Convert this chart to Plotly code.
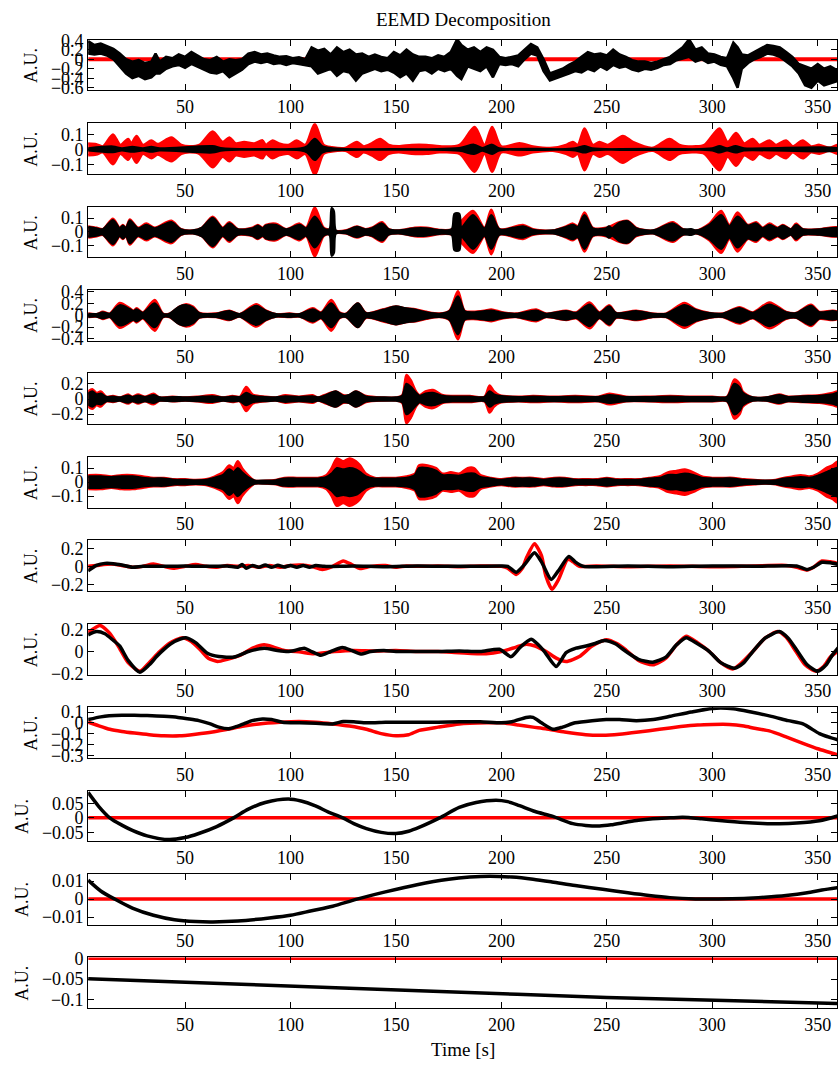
import plotly.graph_objects as go

# ---------------------------------------------------------------- data
# Time axis limits [s]
time_limits = [4.06, 359.14]
x_ticks = [50, 100, 150, 200, 250, 300, 350]

# Reference (red) flat components
flat_t = [4.06, 359.14]
flat_v = [0.0, 0.0]

# Row 1: raw signal, upper / lower extent of the dense trace
raw_t = [4, 7, 10, 13, 16, 19, 22, 25, 28, 31, 34, 36, 38, 41, 44, 47, 50, 53, 56, 59,
         62, 65, 68, 71, 74, 77, 80, 83, 86, 89, 92, 95, 98, 101, 104, 107, 110, 113,
         116, 119, 122, 125, 128, 131, 134, 137, 140, 143, 146, 149, 152, 155, 158,
         161, 164, 167, 170, 173, 176, 179, 181, 184, 187, 190, 193, 196, 199, 202,
         205, 208, 211, 214, 217, 220, 223, 226, 229, 232, 235, 238, 241, 244, 247,
         250, 253, 256, 259, 262, 265, 268, 271, 274, 277, 280, 283, 286, 289, 292,
         295, 298, 301, 304, 307, 310, 312, 314, 317, 320, 323, 326, 329, 332, 335,
         338, 341, 344, 347, 350, 353, 356, 360]
raw_hi = [0.38, 0.30, 0.33, 0.28, 0.22, 0.12, 0.0, -0.05, -0.02, -0.08, -0.05, 0.12, -0.05,
          0.05, 0.02, 0.10, 0.05, 0.15, 0.08, 0.0, -0.02, 0.05, -0.05, 0.0, -0.02, 0.0,
          0.12, 0.15, 0.10, 0.12, 0.08, 0.05, 0.06, 0.02, 0.04, 0.0, 0.25, 0.18, 0.22,
          0.10, 0.25, 0.15, 0.20, 0.10, 0.12, 0.05, 0.10, 0.05, 0.02, 0.15, 0.08, 0.20,
          0.10, 0.05, 0.05, 0.02, 0.08, 0.05, 0.15, 0.42, 0.30, 0.20, 0.25, 0.15, 0.25,
          0.20, 0.05, 0.02, 0.05, 0.08, 0.20, 0.32, 0.25, 0.0, -0.30, -0.25, -0.20,
          -0.12, -0.05, 0.05, 0.15, 0.10, 0.12, 0.08, 0.20, 0.10, 0.05, -0.02, -0.05,
          -0.05, -0.08, -0.05, 0.0, 0.05, 0.15, 0.25, 0.42, 0.20, 0.25, 0.12, 0.10, 0.05,
          0.02, 0.35, 0.25, 0.10, 0.08, 0.15, 0.22, 0.30, 0.28, 0.25, 0.15, 0.05, -0.10,
          -0.15, -0.20, -0.10, -0.20, -0.15, -0.25]
raw_lo = [0.12, 0.10, 0.12, 0.08, 0.0, -0.15, -0.30, -0.40, -0.35, -0.42, -0.38, -0.30,
          -0.30, -0.20, -0.15, -0.12, -0.18, -0.10, -0.15, -0.22, -0.28, -0.30, -0.25,
          -0.38, -0.30, -0.22, -0.10, -0.05, -0.08, -0.05, -0.10, -0.08, -0.12, -0.08,
          -0.10, -0.12, -0.15, -0.30, -0.25, -0.20, -0.35, -0.25, -0.28, -0.45, -0.30,
          -0.25, -0.20, -0.25, -0.22, -0.28, -0.38, -0.30, -0.45, -0.25, -0.22, -0.30,
          -0.20, -0.25, -0.20, -0.35, -0.42, -0.15, -0.20, -0.25, -0.15, -0.38, -0.10,
          -0.12, -0.10, -0.15, 0.0, 0.12, 0.08, -0.25, -0.45, -0.40, -0.35, -0.30, -0.25,
          -0.28, -0.20, -0.25, -0.15, -0.22, -0.12, -0.18, -0.15, -0.22, -0.25, -0.20,
          -0.22, -0.18, -0.12, -0.10, -0.02, 0.02, 0.05, -0.05, 0.0, -0.08, -0.05, -0.12,
          -0.15, -0.40, -0.60, -0.20, -0.08, 0.0, 0.05, 0.12, 0.10, 0.05, -0.05, -0.15,
          -0.30, -0.55, -0.60, -0.45, -0.55, -0.50, -0.45]

# Rows 2-6: oscillation amplitude of the fast modes (red = reference, black = estimate)
imf1_red_t = [4, 7.9, 11, 15.8, 19.3, 23, 24.5, 27, 30, 34, 37, 43.5, 48.2, 52, 56.8, 63.1,
              67.8, 71, 74, 78, 82.8, 86.7, 88.3, 91.5, 94.5, 99, 103, 107, 111.5, 115.7,
              119.6, 126, 131.5, 134.6, 138.5, 142.5, 146.5, 151.2, 157.5, 164.4, 170.7,
              180.2, 187.3, 192, 195.6, 199.9, 208.6, 214.9, 224.4, 230.7, 233.9, 236.2,
              239.4, 243.3, 246.5, 250.5, 257.6, 262.3, 271.8, 279.7, 284.4, 292.3, 296.3,
              303.4, 307.3, 311.3, 315.2, 319.2, 322.3, 327.1, 330.2, 335, 338.1, 342.9,
              346.8, 350.8, 355.5, 360]
imf1_red_a = [0.04, 0.035, 0.02, 0.10, 0.03, 0.07, 0.04, 0.09, 0.03, 0.06, 0.035, 0.08,
              0.03, 0.02, 0.03, 0.12, 0.05, 0.08, 0.04, 0.05, 0.04, 0.06, 0.03, 0.06, 0.04,
              0.03, 0.06, 0.03, 0.17, 0.03, 0.015, 0.01, 0.05, 0.02, 0.04, 0.07, 0.03, 0.02,
              0.03, 0.03, 0.02, 0.03, 0.15, 0.03, 0.15, 0.02, 0.04, 0.02, 0.01, 0.03, 0.05,
              0.03, 0.14, 0.03, 0.05, 0.03, 0.09, 0.05, 0.01, 0.07, 0.03, 0.02, 0.03, 0.14,
              0.05, 0.11, 0.04, 0.07, 0.03, 0.06, 0.03, 0.06, 0.02, 0.06, 0.02, 0.03, 0.01,
              0.03]
imf1_blk_t = [4, 15.8, 20, 25, 30, 34, 38, 63, 68, 105, 108, 111.5, 115, 120, 180, 187,
              191, 195.6, 199, 235, 239.4, 243, 300, 303.4, 307, 311, 315, 360]
imf1_blk_a = [0.006, 0.018, 0.006, 0.015, 0.006, 0.015, 0.006, 0.02, 0.006, 0.006, 0.02,
              0.07, 0.02, 0.006, 0.008, 0.03, 0.008, 0.03, 0.006, 0.006, 0.02, 0.006, 0.006,
              0.02, 0.006, 0.02, 0.006, 0.006]

imf2_red_t = [4, 8, 11, 15.8, 19, 20.5, 22, 23.8, 27.7, 31.6, 35.6, 43.5, 48, 53.7, 58, 63.1,
              67.8, 71, 75, 82, 84.5, 86.8, 88.4, 93, 98, 104.3, 107.4, 111.5, 115.7, 119.6,
              126, 131.5, 135.5, 138.6, 143.4, 146.5, 151.2, 159, 164.4, 170.7, 177, 186.5,
              192, 195.2, 199.1, 210.2, 214.9, 224.4, 230.7, 233.9, 236.2, 239.4, 243.3,
              249.7, 256, 260, 263.9, 271.8, 281.3, 286, 292.3, 298.6, 304.2, 308.1, 312,
              316.8, 320.8, 323.9, 327.1, 331, 333.4, 337.3, 339.7, 342.9, 350.8, 360]
imf2_red_a = [0.04, 0.03, 0.02, 0.095, 0.03, 0.05, 0.03, 0.09, 0.03, 0.06, 0.03, 0.08, 0.02,
              0.01, 0.03, 0.11, 0.03, 0.07, 0.02, 0.03, 0.05, 0.03, 0.05, 0.06, 0.02, 0.06,
              0.03, 0.175, 0.03, 0.01, 0.01, 0.04, 0.02, 0.03, 0.07, 0.02, 0.01, 0.03, 0.03,
              0.015, 0.02, 0.15, 0.03, 0.16, 0.02, 0.05, 0.02, 0.01, 0.04, 0.06, 0.04, 0.14,
              0.03, 0.03, 0.07, 0.08, 0.03, 0.01, 0.07, 0.02, 0.01, 0.06, 0.15, 0.05, 0.14,
              0.05, 0.07, 0.03, 0.06, 0.03, 0.05, 0.02, 0.06, 0.02, 0.02, 0.03]
imf2_blk_t = [4, 8, 11, 15.8, 19, 20.5, 22, 23.8, 27.7, 31.6, 35.6, 43.5, 48, 53.7, 58, 63.1,
              67.8, 71, 75, 82, 84.5, 86.8, 88.4, 93, 98, 104.3, 107.4, 111.5, 115.7, 118.5,
              119.5, 120.5, 121.5, 126, 131.5, 135.5, 138.6, 143.4, 146.5, 151.2, 159, 164.4,
              170.7, 176.5, 177.8, 180, 181, 186.5, 192, 195.2, 199.1, 210.2, 214.9, 224.4,
              230.7, 233.9, 236.2, 239.4, 243.3, 249.7, 251, 252.5, 256, 260, 263.9, 271.8,
              281.3, 286, 290, 292.3, 298.6, 304.2, 308.1, 312, 316.8, 320.8, 323.9, 327.1,
              331, 333.4, 337.3, 339.7, 342.9, 350.8, 360]
imf2_blk_a = [0.035, 0.025, 0.018, 0.085, 0.025, 0.045, 0.025, 0.08, 0.025, 0.05, 0.025,
              0.07, 0.018, 0.01, 0.03, 0.1, 0.025, 0.06, 0.018, 0.025, 0.045, 0.025, 0.045,
              0.05, 0.018, 0.05, 0.025, 0.11, 0.025, 0.02, 0.17, 0.15, 0.01, 0.008, 0.035,
              0.018, 0.025, 0.06, 0.018, 0.01, 0.025, 0.025, 0.012, 0.02, 0.13, 0.13, 0.03,
              0.12, 0.025, 0.12, 0.018, 0.04, 0.015, 0.01, 0.035, 0.05, 0.035, 0.12, 0.025,
              0.025, 0.04, 0.025, 0.065, 0.075, 0.025, 0.01, 0.06, 0.018, 0.02, 0.01, 0.05,
              0.12, 0.04, 0.11, 0.045, 0.06, 0.025, 0.05, 0.025, 0.045, 0.018, 0.05, 0.018,
              0.018, 0.025]

imf3_red_t = [4, 8, 11, 14.3, 19, 23.8, 25.5, 27, 30, 35.6, 39.5, 42.6, 47.4, 50.5, 53.7,
              56.8, 64.7, 71, 75.8, 83.7, 88.4, 93.2, 99.5, 104.3, 110.6, 114.5, 119.3,
              123.2, 126.4, 131.9, 135.8, 143.7, 150, 154, 159.5, 164.4, 170.7, 175.4, 179.4,
              182.5, 186.5, 192, 195.2, 200.7, 207, 216.5, 221.2, 230.7, 235.5, 241.8, 246.5,
              251.2, 254.4, 263.9, 271.8, 278.1, 286.8, 292.3, 298.6, 304.9, 312.9, 319.2,
              327.1, 335, 339.7, 346.8, 350.8, 357.1, 360]
imf3_red_a = [0.03, 0.02, 0.06, 0.03, 0.21, 0.12, 0.08, 0.12, 0.05, 0.26, 0.03, 0.03, 0.15,
              0.19, 0.15, 0.04, 0.03, 0.08, 0.02, 0.19, 0.08, 0.02, 0.03, 0.02, 0.12, 0.05,
              0.26, 0.05, 0.03, 0.2, 0.04, 0.1, 0.15, 0.12, 0.1, 0.06, 0.03, 0.08, 0.41, 0.08,
              0.06, 0.08, 0.1, 0.05, 0.03, 0.1, 0.03, 0.08, 0.05, 0.22, 0.05, 0.17, 0.04, 0.08,
              0.03, 0.03, 0.21, 0.1, 0.04, 0.03, 0.14, 0.05, 0.22, 0.06, 0.04, 0.18, 0.06,
              0.08, 0.05]
imf3_blk_t = imf3_red_t
imf3_blk_a = [0.025, 0.018, 0.05, 0.025, 0.17, 0.1, 0.07, 0.1, 0.04, 0.2, 0.025, 0.025,
              0.15, 0.17, 0.13, 0.035, 0.025, 0.07, 0.018, 0.16, 0.07, 0.018, 0.025, 0.018,
              0.1, 0.04, 0.2, 0.04, 0.025, 0.2, 0.035, 0.09, 0.15, 0.12, 0.09, 0.05, 0.025,
              0.07, 0.32, 0.07, 0.05, 0.07, 0.08, 0.04, 0.025, 0.08, 0.025, 0.07, 0.04, 0.18,
              0.04, 0.15, 0.035, 0.07, 0.025, 0.025, 0.17, 0.09, 0.035, 0.025, 0.12, 0.04,
              0.18, 0.05, 0.035, 0.16, 0.05, 0.07, 0.04]

imf4_red_t = [4, 6, 8, 10, 12.7, 15.8, 19, 23, 25, 27.7, 31, 35, 38, 44, 50, 56, 63, 68, 72.5,
              76, 79, 82, 88, 93, 97.5, 104, 110.5, 113, 116, 121.5, 125, 127.8, 131, 135.8,
              143.7, 150, 153, 155, 157, 159.5, 161.2, 164, 167.5, 172.3, 177, 185, 192,
              194.4, 196.5, 199.1, 208, 215, 225, 235, 246, 251.2, 259.1, 270, 280, 290, 300,
              307, 310.5, 313, 314.4, 319.2, 325.5, 331.8, 336, 342.9, 350.8, 357, 360]
imf4_red_a = [0.1, 0.13, 0.08, 0.1, 0.03, 0.04, 0.02, 0.06, 0.03, 0.06, 0.03, 0.07, 0.02,
              0.03, 0.02, 0.03, 0.05, 0.02, 0.04, 0.03, 0.16, 0.06, 0.03, 0.02, 0.05, 0.03,
              0.05, 0.02, 0.05, 0.1, 0.05, 0.05, 0.1, 0.04, 0.02, 0.02, 0.05, 0.32, 0.25, 0.1,
              0.05, 0.1, 0.12, 0.05, 0.04, 0.04, 0.03, 0.18, 0.1, 0.05, 0.03, 0.04, 0.03, 0.04,
              0.03, 0.07, 0.03, 0.03, 0.04, 0.03, 0.03, 0.03, 0.26, 0.2, 0.1, 0.02, 0.02,
              0.06, 0.03, 0.04, 0.05, 0.08, 0.1]
imf4_blk_t = imf4_red_t
imf4_blk_a = [0.07, 0.1, 0.06, 0.07, 0.025, 0.03, 0.02, 0.045, 0.025, 0.045, 0.025, 0.05,
              0.02, 0.025, 0.02, 0.025, 0.035, 0.02, 0.03, 0.025, 0.08, 0.04, 0.025, 0.02,
              0.035, 0.025, 0.035, 0.02, 0.04, 0.1, 0.04, 0.05, 0.1, 0.03, 0.02, 0.02, 0.04,
              0.2, 0.16, 0.08, 0.04, 0.07, 0.08, 0.04, 0.03, 0.03, 0.025, 0.1, 0.06, 0.04,
              0.025, 0.03, 0.025, 0.03, 0.025, 0.05, 0.025, 0.025, 0.03, 0.025, 0.025, 0.025,
              0.2, 0.15, 0.08, 0.02, 0.02, 0.05, 0.025, 0.035, 0.04, 0.06, 0.08]

imf5_red_t = [4, 10, 15, 20, 25, 30, 35, 40, 45, 50, 55, 60, 64, 68, 71, 73, 75, 77, 79.8, 83,
              88, 93, 97, 103, 108, 113, 117, 119.5, 122, 125, 128, 131, 133, 135.8, 140, 145,
              150, 155, 159, 161, 165, 169, 172, 176, 180, 184, 187, 190, 195, 200, 205, 210,
              215, 220, 225, 230, 235, 240, 245, 250, 255, 260, 265, 270, 275, 279, 283, 287,
              291, 295, 300, 305, 310, 315, 320, 325, 330, 334, 338, 342, 346, 350, 354, 357,
              360]
imf5_red_a = [0.05, 0.05, 0.04, 0.05, 0.05, 0.04, 0.03, 0.03, 0.02, 0.02, 0.015, 0.02, 0.04,
              0.07, 0.12, 0.1, 0.15, 0.1, 0.05, 0.01, 0.01, 0.015, 0.03, 0.03, 0.03, 0.03,
              0.05, 0.1, 0.17, 0.15, 0.17, 0.15, 0.12, 0.06, 0.03, 0.03, 0.03, 0.04, 0.06,
              0.12, 0.12, 0.1, 0.06, 0.07, 0.06, 0.1, 0.1, 0.05, 0.03, 0.02, 0.03, 0.03, 0.03,
              0.02, 0.03, 0.03, 0.02, 0.02, 0.02, 0.03, 0.02, 0.02, 0.02, 0.03, 0.04, 0.07,
              0.08, 0.09, 0.07, 0.04, 0.03, 0.03, 0.03, 0.02, 0.015, 0.01, 0.015, 0.03, 0.04,
              0.05, 0.04, 0.06, 0.1, 0.12, 0.15]
imf5_blk_t = imf5_red_t
imf5_blk_a = [0.04, 0.04, 0.035, 0.04, 0.04, 0.03, 0.025, 0.025, 0.015, 0.015, 0.012, 0.015,
              0.03, 0.05, 0.09, 0.07, 0.1, 0.07, 0.035, 0.01, 0.01, 0.012, 0.025, 0.025, 0.025,
              0.025, 0.035, 0.06, 0.1, 0.09, 0.1, 0.09, 0.07, 0.04, 0.025, 0.025, 0.025, 0.03,
              0.05, 0.1, 0.1, 0.08, 0.05, 0.05, 0.045, 0.06, 0.06, 0.035, 0.025, 0.015, 0.025,
              0.025, 0.025, 0.015, 0.025, 0.025, 0.015, 0.015, 0.015, 0.025, 0.015, 0.015,
              0.015, 0.025, 0.03, 0.05, 0.05, 0.06, 0.05, 0.03, 0.025, 0.025, 0.025, 0.015,
              0.012, 0.01, 0.012, 0.025, 0.03, 0.035, 0.03, 0.045, 0.07, 0.09, 0.1]

# Rows 7-12: slow modes, sampled waveforms
imf6_red_t = [4, 8, 15, 20, 25, 30, 35, 40, 45, 50, 55, 60, 65, 70, 75, 80, 85, 90, 95, 100,
              105, 110, 115, 120, 125, 129, 133, 138, 145, 150, 155, 160, 170, 180, 190, 200,
              203, 207, 210, 212, 215.7, 219, 221, 224, 227, 231.5, 234, 237, 245, 260, 280,
              300, 320, 335, 340, 345, 348, 352, 356, 360]
imf6_red_v = [0.0, 0.01, 0.025, 0.01, -0.01, 0.0, 0.025, 0.0, -0.02, 0.0, 0.02, 0.0, -0.01,
              0.01, 0.0, 0.01, -0.01, 0.01, -0.01, 0.01, 0.015, 0.0, -0.035, 0.0, 0.06, 0.02,
              -0.025, 0.0, 0.01, -0.01, 0.005, 0.0, 0.005, -0.005, 0.005, 0.0, -0.02, -0.09,
              -0.02, 0.1, 0.25, 0.12, -0.1, -0.255, -0.15, 0.08, 0.05, 0.0, 0.005, -0.005,
              0.005, -0.005, 0.005, 0.01, -0.01, -0.04, -0.01, 0.06, 0.05, 0.03]
imf6_blk_t = [4, 8, 12, 16, 20, 25, 30, 40, 50, 60, 70, 75, 77, 79, 82, 85, 88, 91, 94, 97,
              100, 103, 106, 109, 112, 116, 130, 145, 160, 180, 200, 203, 207, 211, 215.7, 219,
              223.6, 227, 232, 235, 239, 260, 280, 300, 320, 340, 345, 348, 352, 356, 360]
imf6_blk_v = [-0.05, 0.01, 0.033, 0.03, 0.015, -0.01, 0.0, 0.0, 0.005, 0.0, 0.005, -0.01,
              0.02, -0.02, 0.01, -0.01, 0.015, -0.01, 0.012, -0.008, 0.01, -0.01, 0.01, -0.01,
              0.01, 0.0, 0.005, -0.005, 0.005, 0.0, 0.005, 0.0, -0.066, 0.02, 0.15, 0.05,
              -0.146, -0.05, 0.11, 0.05, 0.0, 0.005, -0.005, 0.005, 0.0, 0.005, -0.035, -0.01,
              0.045, 0.04, 0.02]

imf7_red_t = [4, 9.6, 14, 18.3, 23, 28.6, 33, 38, 43, 48.8, 53, 57.5, 61, 65.4, 70, 76.5, 82,
              87.5, 92, 97, 104.9, 111, 120.8, 130, 140, 150, 160, 170, 180, 192.8, 200, 207,
              211.7, 216, 221.2, 226, 230.7, 237, 243, 249.7, 255, 259.1, 265, 271.8, 278,
              283, 287.6, 293, 298.6, 304, 309.7, 314, 319.2, 325, 331, 335, 339.7, 344,
              349.2, 353, 356, 360]
imf7_red_v = [0.17, 0.235, 0.17, 0.05, -0.1, -0.178, -0.1, 0.0, 0.08, 0.125, 0.09, 0.01,
              -0.06, -0.09, -0.07, -0.03, 0.03, 0.06, 0.04, 0.01, -0.005, -0.02, 0.0, 0.01,
              0.005, 0.01, 0.0, 0.0, -0.01, -0.02, 0.0, 0.04, 0.066, 0.05, 0.0, -0.06, -0.09,
              -0.045, 0.05, 0.107, 0.07, 0.013, -0.08, -0.12, -0.06, 0.06, 0.137, 0.08, 0.0,
              -0.1, -0.158, -0.1, 0.0, 0.12, 0.18, 0.13, 0.0, -0.12, -0.178, -0.13, -0.05, 0.01]
imf7_blk_t = [4, 8, 12, 16, 19, 23, 28.6, 33, 36.5, 40, 45, 50.4, 55, 60.6, 66, 73.3, 80,
              87.5, 93.8, 98.6, 102, 106.5, 110, 114.4, 119, 124.6, 129, 133.3, 138, 144.3,
              150, 159.5, 170, 180, 190, 199.1, 204.6, 209, 214.1, 217, 220.4, 226, 230.7,
              235.4, 240.2, 244, 248.9, 254, 259.1, 265, 271.8, 278, 283, 287.6, 293, 298.6,
              304, 310.5, 315, 319.2, 325, 331.8, 336, 340.5, 345, 350, 354, 357, 360]
imf7_blk_v = [0.15, 0.18, 0.16, 0.1, 0.05, -0.08, -0.187, -0.12, -0.045, 0.02, 0.09, 0.125,
              0.08, -0.016, -0.045, -0.05, 0.0, 0.03, 0.01, 0.0, 0.01, 0.03, 0.0, -0.034, 0.0,
              0.037, 0.01, -0.022, 0.0, 0.01, 0.0, 0.0, 0.0, 0.005, 0.0, 0.02, -0.046, 0.04,
              0.11, 0.07, 0.0, -0.134, -0.01, 0.03, 0.05, 0.07, 0.1, 0.07, 0.0, -0.07, -0.096,
              -0.05, 0.06, 0.125, 0.07, 0.0, -0.1, -0.15, -0.1, 0.0, 0.12, 0.18, 0.12, 0.0,
              -0.12, -0.178, -0.12, -0.03, 0.04]

imf8_red_t = [4, 8, 14.3, 20, 26, 33, 40, 47.4, 55, 63, 70, 78, 85, 95, 104, 112, 120, 128,
              136, 143, 150, 156, 161, 170, 180, 193, 200, 208, 215, 221, 230, 240, 248, 256,
              265, 275, 285, 293, 300, 308, 315, 320, 327, 335, 343, 350, 355, 360]
imf8_red_v = [0.006, -0.02, -0.06, -0.08, -0.095, -0.11, -0.12, -0.12, -0.105, -0.085,
              -0.06, -0.03, -0.01, 0.005, 0.012, 0.005, -0.01, -0.03, -0.06, -0.1, -0.12,
              -0.11, -0.07, -0.04, -0.01, 0.0, 0.0, -0.02, -0.04, -0.055, -0.085, -0.11,
              -0.115, -0.105, -0.085, -0.06, -0.035, -0.02, -0.015, -0.015, -0.03, -0.05,
              -0.075, -0.13, -0.19, -0.24, -0.27, -0.30]
imf8_blk_t = [4, 10, 14, 20, 26, 32, 40, 46.7, 52, 56.5, 62, 66, 70.7, 75, 79, 81.8, 86.7,
              91, 96.2, 104.3, 112, 120, 125, 130, 136, 145, 151, 161, 170, 180, 190, 200, 205,
              211.7, 215, 219, 224.4, 229, 235, 243, 249.7, 256, 264, 272, 280, 290, 300, 310,
              319, 328, 336, 343, 350.8, 355, 360]
imf8_blk_v = [0.03, 0.055, 0.065, 0.07, 0.07, 0.067, 0.06, 0.05, 0.035, 0.02, -0.01, -0.04,
              -0.055, -0.03, 0.0, 0.02, 0.036, 0.03, 0.006, 0.0, -0.005, -0.01, 0.012, 0.01,
              0.0, 0.005, 0.006, 0.006, 0.005, 0.01, 0.01, 0.0, 0.01, 0.05, 0.05, 0.0, -0.06,
              -0.04, 0.0, 0.02, 0.03, 0.03, 0.02, 0.03, 0.06, 0.1, 0.133, 0.13, 0.097, 0.06,
              0.02, -0.01, -0.1, -0.13, -0.16]

imf9_t = [4, 9, 14.3, 20, 25, 32, 42.5, 50, 56.5, 65, 73, 80, 88, 99, 105, 111.5, 118, 124.8,
          130, 136, 143, 150, 156, 161.2, 170.7, 180, 188, 197.5, 203, 208.6, 216, 224.4,
          233.9, 240, 246.5, 252, 259.1, 265, 271.8, 280, 286, 295, 303.4, 315, 324, 331.8,
          340, 350.8, 360]
imf9_v = [0.088, 0.04, 0.0, -0.025, -0.043, -0.062, -0.075, -0.068, -0.054, -0.03, 0.0, 0.03,
          0.053, 0.065, 0.058, 0.042, 0.02, 0.0, -0.02, -0.037, -0.05, -0.054, -0.046, -0.032,
          0.0, 0.036, 0.053, 0.061, 0.056, 0.042, 0.022, 0.005, -0.02, -0.026, -0.028, -0.024,
          -0.015, -0.008, -0.003, 0.0, 0.002, -0.003, -0.009, -0.016, -0.019, -0.02, -0.018,
          -0.01, 0.008]

imf10_t = [4, 10, 16.6, 25, 35, 45, 55, 63.2, 75, 90, 100, 110, 120, 131.5, 145, 160, 175,
           185, 194.4, 205, 215, 224, 235, 248, 260, 270, 280, 292, 303, 315, 325, 335, 345,
           352, 360]
imf10_v = [0.0105, 0.0045, 0.0, -0.005, -0.009, -0.0115, -0.0125, -0.0127, -0.0122, -0.0105,
           -0.009, -0.0065, -0.004, 0.0, 0.004, 0.008, 0.011, 0.0122, 0.0127, 0.0122, 0.011,
           0.0095, 0.0075, 0.0055, 0.0035, 0.002, 0.0008, 0.0001, 0.0, 0.0003, 0.001, 0.002,
           0.0035, 0.005, 0.0064]

trend_t = [4, 80, 161, 250, 360]
trend_v = [-0.049, -0.063, -0.078, -0.094, -0.109]

# ---------------------------------------------------------------- layout
# The figure sits 8 px below the top of the window; positions below are
# given in window pixels and converted to paper fractions.
TOP_OFFSET = 8
WIN_W, WIN_H = 838, 1078
FIG_W, FIG_H = WIN_W, WIN_H - TOP_OFFSET
X_LEFT = 88.3
FONT = "Liberation Serif"
RED, BLACK = "#ff0000", "#000000"


def px_x(x):
    return x / FIG_W


def px_y(y):
    return 1 - (y - TOP_OFFSET) / FIG_H


# (top px, bottom px, y-range, tick values, tick labels, label x px)
panels = [
    (39.3, 90.7, [-0.655, 0.41], [-0.6, -0.4, -0.2, 0, 0.2, 0.4],
     ["\u22120.6", "\u22120.4", "\u22120.2", "0", "0.2", "0.4"], 31),
    (124.3, 176.0, [-0.166, 0.174], [-0.1, 0, 0.1], ["\u22120.1", "0", "0.1"], 31),
    (209.3, 260.7, [-0.183, 0.18], [-0.1, 0, 0.1], ["\u22120.1", "0", "0.1"], 31),
    (293.3, 345.3, [-0.43, 0.44], [-0.4, -0.2, 0, 0.2, 0.4],
     ["\u22120.4", "\u22120.2", "0", "0.2", "0.4"], 31),
    (378.3, 430.3, [-0.334, 0.345], [-0.2, 0, 0.2], ["\u22120.2", "0", "0.2"], 31),
    (463.7, 515.3, [-0.184, 0.18], [-0.1, 0, 0.1], ["\u22120.1", "0", "0.1"], 31),
    (548.3, 600.3, [-0.277, 0.29], [-0.2, 0, 0.2], ["\u22120.2", "0", "0.2"], 31),
    (633.3, 685.0, [-0.208, 0.25], [-0.2, 0, 0.2], ["\u22120.2", "0", "0.2"], 31),
    (718.3, 770.0, [-0.327, 0.143], [-0.3, -0.2, -0.1, 0, 0.1],
     ["\u22120.3", "\u22120.2", "\u22120.1", "0", "0.1"], 31),
    (803.3, 854.3, [-0.080, 0.093], [-0.05, 0, 0.05], ["\u22120.05", "0", "0.05"], 22),
    (887.3, 939.3, [-0.0142, 0.0142], [-0.01, 0, 0.01], ["\u22120.01", "0", "0.01"], 22),
    (972.7, 1024.3, [-0.12, 0.002], [-0.1, -0.05, 0], ["\u22120.1", "\u22120.05", "0"], 22),
]

fig = go.Figure()


def ax(i):
    return ("x" if i == 1 else f"x{i}"), ("y" if i == 1 else f"y{i}")


def add_line(i, t, v, color, width=3, smooth=0.0):
    xa, ya = ax(i)
    line = dict(color=color, width=width)
    if smooth:
        line.update(shape="spline", smoothing=smooth)
    fig.add_trace(go.Scatter(x=t, y=v, mode="lines", xaxis=xa, yaxis=ya,
                             line=line, hoverinfo="skip"))


def add_band(i, t, hi, lo, color, smooth=True):
    xa, ya = ax(i)
    fig.add_trace(go.Scatter(
        x=list(t) + list(t)[::-1], y=list(hi) + list(lo)[::-1],
        mode="lines", fill="toself", fillcolor=color, xaxis=xa, yaxis=ya,
        line=dict(color=color, width=2.5, shape="spline" if smooth else "linear",
                  smoothing=0.8), hoverinfo="skip"))


def add_envelope(i, t, a, color):
    add_band(i, t, a, [-v for v in a], color)


# Row 1: raw record
add_line(1, flat_t, flat_v, RED, 4)
add_band(1, raw_t, raw_hi, raw_lo, BLACK, smooth=False)
# Rows 2-6: fast intrinsic modes
for row, (rt, ra, bt, ba) in enumerate([
        (imf1_red_t, imf1_red_a, imf1_blk_t, imf1_blk_a),
        (imf2_red_t, imf2_red_a, imf2_blk_t, imf2_blk_a),
        (imf3_red_t, imf3_red_a, imf3_blk_t, imf3_blk_a),
        (imf4_red_t, imf4_red_a, imf4_blk_t, imf4_blk_a),
        (imf5_red_t, imf5_red_a, imf5_blk_t, imf5_blk_a)], start=2):
    add_envelope(row, rt, ra, RED)
    add_envelope(row, bt, ba, BLACK)
# Rows 7-9: slow modes with a red reference
for row, (rt, rv, bt, bv) in enumerate([
        (imf6_red_t, imf6_red_v, imf6_blk_t, imf6_blk_v),
        (imf7_red_t, imf7_red_v, imf7_blk_t, imf7_blk_v),
        (imf8_red_t, imf8_red_v, imf8_blk_t, imf8_blk_v)], start=7):
    add_line(row, rt, rv, RED, 3.5, smooth=0.6)
    add_line(row, bt, bv, BLACK, 3.5, smooth=0.6)
# Rows 10-12: last modes and trend, red reference at zero
for row, (bt, bv) in enumerate([(imf9_t, imf9_v), (imf10_t, imf10_v),
                                 (trend_t, trend_v)], start=10):
    add_line(row, flat_t, flat_v, RED, 3.5)
    add_line(row, bt, bv, BLACK, 3.5, smooth=0.8)

layout = dict(
    width=FIG_W, height=FIG_H, margin=dict(l=0, r=0, t=0, b=0),
    paper_bgcolor="white", plot_bgcolor="white", showlegend=False,
    font=dict(family=FONT, size=18, color="black"),
)
annotations = []
for i, (top, bot, yr, tv, tt, lx) in enumerate(panels, start=1):
    xkey = "xaxis" if i == 1 else f"xaxis{i}"
    ykey = "yaxis" if i == 1 else f"yaxis{i}"
    layout[xkey] = dict(
        domain=[px_x(X_LEFT), 1.0], range=time_limits, anchor=ax(i)[1],
        tickvals=x_ticks, ticks="inside", ticklen=6, tickcolor="black",
        showline=True, linecolor="black", linewidth=1, mirror="ticks",
        showgrid=False, zeroline=False, tickfont=dict(family=FONT, size=18))
    layout[ykey] = dict(
        domain=[px_y(bot), px_y(top)], range=yr, anchor=ax(i)[0],
        tickvals=tv, ticktext=tt, ticks="inside", ticklen=6, tickcolor="black",
        showline=True, linecolor="black", linewidth=1, mirror="ticks",
        showgrid=False, zeroline=False, tickfont=dict(family=FONT, size=18))
    annotations.append(dict(
        text="A.U.", xref="paper", yref="paper", x=px_x(lx),
        y=px_y((top + bot) / 2), showarrow=False, textangle=-90,
        xanchor="center", yanchor="middle", font=dict(family=FONT, size=18)))

annotations.append(dict(text="EEMD Decomposition", xref="paper", yref="paper",
                        x=px_x(464), y=px_y(19), showarrow=False,
                        xanchor="center", yanchor="middle",
                        font=dict(family=FONT, size=19)))
annotations.append(dict(text="Time [s]", xref="paper", yref="paper",
                        x=px_x(464), y=px_y(1066), showarrow=False,
                        xanchor="center", yanchor="middle",
                        font=dict(family=FONT, size=19)))
layout["annotations"] = annotations
fig.update_layout(**layout)

fig.write_html("out.html")
